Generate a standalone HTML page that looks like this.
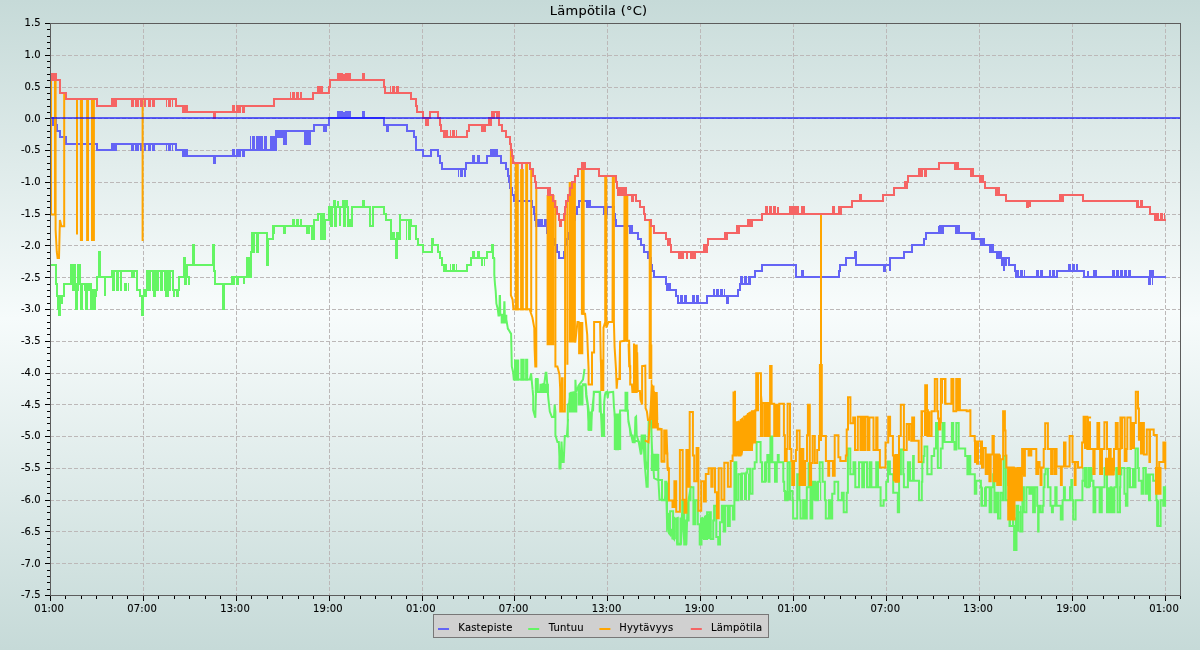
<!DOCTYPE html><html><head><meta charset="utf-8"><title>Lämpötila</title><style>html,body{margin:0;padding:0;width:1200px;height:650px;overflow:hidden;background:#c6dad8}svg{display:block}</style></head><body><svg width="1200" height="650" viewBox="0 0 1200 650">
<defs>
<linearGradient id="bg" x1="0" y1="0" x2="0" y2="1">
<stop offset="0" stop-color="#c6dad8"/><stop offset="0.49" stop-color="#f6fbfb"/><stop offset="1" stop-color="#c6dad8"/>
</linearGradient>
<linearGradient id="pbg" gradientUnits="userSpaceOnUse" x1="0" y1="23" x2="0" y2="596">
<stop offset="0" stop-color="#cddfdd"/><stop offset="0.5" stop-color="#f8fcfc"/><stop offset="1" stop-color="#cddfdd"/>
</linearGradient>
</defs>
<rect x="0" y="0" width="1200" height="650" fill="url(#bg)"/>
<rect x="50" y="23" width="1130" height="572" fill="url(#pbg)"/>
<path d="M143.5 23V595M236.5 23V595M329.5 23V595M422.5 23V595M514.5 23V595M607.5 23V595M700.5 23V595M793.5 23V595M886.5 23V595M979.5 23V595M1072.5 23V595M1165.5 23V595M50 55.5H1180M50 87.5H1180M50 118.5H1180M50 150.5H1180M50 182.5H1180M50 214.5H1180M50 245.5H1180M50 277.5H1180M50 309.5H1180M50 341.5H1180M50 373.5H1180M50 404.5H1180M50 436.5H1180M50 468.5H1180M50 500.5H1180M50 531.5H1180M50 563.5H1180" stroke="#bcb8b8" stroke-width="1" stroke-dasharray="4 2" fill="none"/>
<defs><clipPath id="pc"><rect x="51" y="24" width="1129" height="571"/></clipPath><pattern id="po" width="4" height="8" patternUnits="userSpaceOnUse"><rect width="3" height="8" fill="#ffa500"/></pattern><pattern id="pb" width="4" height="8" patternUnits="userSpaceOnUse"><rect width="3" height="8" fill="#6464f5"/></pattern><pattern id="pr" width="4" height="8" patternUnits="userSpaceOnUse"><rect width="3" height="8" fill="#f56464"/></pattern><pattern id="pg" width="4" height="8" patternUnits="userSpaceOnUse"><rect width="3" height="8" fill="#64f564"/></pattern></defs><g clip-path="url(#pc)" fill="none" stroke-width="2" stroke-linecap="square" stroke-linejoin="miter"><path d="M50 118H56V125H57V131H60V137H66V144H97V150H112V144H132V150H133V144H136V150H138V144H176V150H183V156H214V163H215V156H240V150H243V156H244V150H257V137H259V150H276V137H276V131H278V137H280V131H284V144H286V131H305V144H310V131H314V125H329V118H338V112H340V118H341V112H342V118H344V112H344V118H346V112H347V118H349V112H350V118H363V112H364V118H384V125H407V131H414V137H416V144H416V150H423V156H431V150H438V156H440V163H442V169H466V163H473V156H474V163H487V156H498H501V163H506V169H508V176H509V182H510V188H512V195H514V201H532V207H534V214H535V220H536V226H538V220H539V226H541V220H542V226H545V220H546V226H547V233H553V239H555V245H557V252H559V258H564V252H565V245H566V239H568V233H570V226H572V220H575V214H577V207H579V201H590V207H614V214H615V220H616V226H632V233H638V239H641V245H644V252H648V258H651V265H652V271H654V277H666V284H670V290H676V296H678V303H707V296H727V303H728V296H738V290H740V284H750V277H755V271H762V265H796V277H802V271H803V277H839V271H840V265H846V258H855V252H856V265H884V271H885V265H890V271H890V258H904V252H912V245H924V239H926V233H939V226H939V233H940V226H942V233H943V226H959V233H974V239H984V245H993V252H1001V258H1004V271H1004V258H1009V265H1015V271H1016V277H1057V271H1084V277H1088V271H1088V277H1094V271H1096V277H1150V271H1151V277H1152V271H1153V277H1165" stroke="#6464f5"/><path d="M52 117H54V126H52ZM112 143H117V151H112ZM183 149H188V157H183ZM270 136H276V151H270ZM305 130H310V145H305ZM323 124H327V132H323ZM337 111H340V119H337ZM386 124H389V132H386ZM477 155H480V164H477ZM493 149H498V157H493ZM490 149H493V157H490ZM586 200H590V208H586ZM603 206H608V215H603ZM629 225H632V234H629ZM666 283H670V291H666ZM955 225H959V234H955ZM971 232H974V240H971ZM980 238H984V246H980ZM989 244H993V253H989ZM996 251H1001V259H996Z" fill="#6464f5"/><path d="M139 143H146V151H139ZM148 143H156V151H148ZM166 143H173V151H166ZM232 149H240V157H232ZM250 136H257V151H250ZM259 136H268V151H259ZM280 130H288V138H280ZM458 168H466V177H458ZM678 295H688V304H678ZM691 295H700V304H691ZM713 289H725V297H713ZM740 276H750V285H740ZM1001 257H1009V266H1001ZM1017 270H1025V278H1017ZM1035 270H1043V278H1035ZM1049 270H1057V278H1049ZM1068 264H1078V272H1068ZM1112 270H1131V278H1112ZM1147 276H1153V285H1147Z" fill="url(#pb)"/><path d="M50 265H56V284H57V296H58V309H59V315H60V296H64V284H71V265H75V290H76V309H77V284H78V265H80V284H81V309H82V284H86V309H87V284H91V309H95V290H97V277H99V252H100V277H105V296H105V277H112V271H122H129H132V277H134V271H137V290H140V296H142V315H143V296H144V290H147V271H154V296H155V271H166V296H168V271H173V290H179V277H184V258H185V277H187V265H193V245H194V265H213V245H214V265H214V271H215V284H223V309H224V284H232V277H244V284H244V277H247V258H250V277H251V252H252V233H260H267V265H268V239H273V226H284V233H285V226H307V233H309V226H312V239H314V220H318V214H324V239H325V220H329V207H331V226H332V207H334V201H335V226H336V207H338V201H338V207H340V226H340V207H343V201H344V207H344V226H345V207H346V201H347V207H348V226H352V207H363V201H364V207H370V226H373V207H384V214H386V220H391V239H396V258H397V239H400V214H400V220H406H411V226H416V239H418V245H423V252H432V239H433V245H438V252H440V258H442V265H444V271H467V265H471V258H473V252H474V258H478V252H479V258H487V252H492V245H493V258H494" stroke="#64f564"/><path d="M59 295H64V304H59ZM71 264H75V291H71ZM75 283H78V291H75ZM78 264H80V291H78ZM80 283H86V291H80ZM88 283H91V291H88ZM91 289H95V310H91ZM95 289H97V297H95ZM112 270H122V291H112ZM123 283H129V291H123ZM144 289H148V297H144ZM147 270H173V291H147ZM173 289H179V297H173ZM183 276H190V285H183ZM232 276H239V285H232ZM247 257H250V278H247ZM252 232H260V253H252ZM273 225H275V234H273ZM291 219H302V227H291ZM317 213H324V221H317ZM320 219H324V240H320ZM348 219H352V227H348ZM370 206H373V227H370ZM390 232H400V240H390ZM406 219H411V240H406ZM444 264H448V272H444ZM450 264H457V272H450ZM481 257H485V266H481Z" fill="url(#pg)"/><path d="M494.3 258.7 494.3 258.7M494.3 259.2 494.3 274.6 495 284.3 495.7 291.2 496.4 303.7 497.8 309.2 498.5 315.4 499.4 315.4 499.7 296.1 500 296.1 500.3 314.7 504 314.7 504.3 302.3 504.5 302.3 504.8 314.7 506.8 322.4 507.9 328.6M507.9 328.5 511.1 333.9 511.8 366.4 513.1 372 513.8 379.6 529.8 379.6 531.1 373.4 532.5 388.6M532.5 388.5 533.2 396.3 533.2 410.1 535.3 417.8 536 392.1 536 379 537.6 379 537.6 392.1 540.1 392.1 540.8 385.2 544.3 383.8 545.7 372.8 546.4 372.8 547.8 392.1 548.4 399.1 549.8 411.5 551.9 417.1 554 417.1 554.7 404.6 555.4 411.5 555.4 435.1 557.4 442 558.8 442 559.5 458.6M559.4 458.5 559.4 468.4 560.5 468.4 561.5 441.5 562.6 462 563.7 462 564.8 436.1 566.9 436.1 568 420M567.8 436.4 567.8 404.6 569.2 403.2 570.6 392.8 575.4 392.1 575.4 379.7 576.1 392.1 578.9 385.2 583 379.7 584.4 370M583 385.2 585.8 385.2 586.5 394.9 588.6 410.1 589.3 422.6 590 429.5 591.3 422.6 592 411.5 594.1 392.1 599.7 392.1 599.7 411.5M582.8 384.2 585.5 384.2 586.2 396.6 587.6 404.9 588.3 416 589 421.5 589 429.8 591.1 429.8 591.8 411.8 593.1 410.4 593.8 391.8 600.1 391.8 600.8 410.4 601.5 422.9 602.1 436.1 603.5 436.1 604.2 402.1 604.9 395.2 605.6 392.5 607 391.8 607.7 398 608.4 392.5 613.2 391.8 613.9 406.3 615.3 421.5 616 449.2 618.1 449.2 618.8 429.8 620.1 410.4 627.8 410.4 628.4 421.5 629.8 428.4 630.5 435.4 632.6 435.4 633.3 442.3 634.7 442.3 635.4 417.4 636.1 416.7 636.7 435.4 638.8 442.3 640.9 454.7 641.6 435.4 645.1 435.4 645.7 460.3 647.1 468.6M649.2 422.9 651.3 422.9 652 454.7 657.5 454.7 657.5 470M628.3 420 632.6 441.5 634.7 440.5 639.1 441.5 641.2 454.5 643.4 436.1 644.4 459.8 646.6 486.8 647.7 486.8 648.7 420 650.9 420 652 448 654.1 478.1 658.4 480.3 659.5 499.7 664.9 499.7 666 481.4 667 521.2 668.1 529.8 671.4 529.8 672.4 538.4 674.6 538.4 674.6 519.1 677.8 518 677.8 543.8 681 543.8 682.1 512.6 683.2 523.4 684.3 543.8 686.4 543.8 687.5 506.1 690.7 486.8M655 454.9H657.8V454.9H658.3V479.9H661.5V479.9H662V500.2H664.2V500.2H665.2V481.7H666.4V483.6H667V522.3H667.9V522.3H668.3V531.6H669.8V531.6H670.1V511.3H672.5V511.3H673.1V538H674.4V538H674.9V518.6H676.8V518.6H677.2V544.5H679.9V544.5H680.5V518.6H681.8V518.6H682.3V500.2H683.6V500.2H684.2V544.5H685.5V544.5H686V520.5H688.2V520.5H688.6V500.2H690.1V500.2H690.5V487.2H692.9V487.2H693.4V524.2H694.7V524.2H695.3V500.2H697.5V500.2H697.8V524.2H699.3V524.2H699.7V544.5H701.2V544.5H701.5V518.6H703.4V518.6H703.9V539H706.7V539H707.1V512.2H710.4V512.2H710.8V539H712.2V539H713.2V520.5H714.1V505.7H715.9V505.7H716.3V537.1H717.8V537.1H718.2V544.5H719.6V544.5H720V522.3H721.5V522.3H721.9V505.7H723.3V505.7H723.7V531.6H725.2V505.7H727.4V505.7H727.9V526H729.2V526H729.8V505.7H732.6V505.7H732.9V519.6H734V519.6H734.4V462.3H735.9V462.3H736.3V500.2H738.1V500.2H738.5V474.3H741.8V473.4H745.5V473.4H746.4V472.5H747.3V468.8H749.6V468.8H750.1V493.7H752V493.7H752.5V468.8H754.4V468.8H754.7V462.3H756.2V462.3H756.6V442H760.3V442H760.6V462.3H761.7V462.3H762.1V481.7H764.9V481.7H765.4V462.3H766.7V462.3H767.3V454.9H768V454.9H768.6V481.7H769.5V462.3H770.4V436.5H771.7V436.5H772.3V462.3H774.1V462.3H775V481.7H775M775 462.3H775.9V481.7H776.8V462.3H777.8V454.9H778.7V462.3H782.4V462.3H783.3V481.7H784.2V490.9H785.2V500.2H787V500.2H787.6V462.3H789.4V462.3H789.8V490.9H791.6V490.9H792.5V500.2H793.1V518.6H796.8V518.6H797.2V474.3H799V474.3H799.4V500.2H800.5V518.6H802.7V518.6H803.1V500.2H804.5V500.2H804.9V518.6H806.4V518.6H806.8V487.2H808.2V487.2H808.6V463.2H810.1V463.2H810.5V518.6H811.9V518.6H812.3V481.7H814.7V481.7H815.3V500.2H817.5V500.2H817.8V481.7H819.3V481.7H819.7V462.3H822.1V462.3H822.6V481.7H823.9V481.7H824.9V500.2H825.8V518.6H828.6V518.6H828.9V500.2H830.4V500.2H830.8V518.6H831.9V518.6H832.2V493.7H833.7V493.7H834.5V481.7H837.8V481.7H838.2V500.2H841.5V500.2H841.9V492.8H843.3V492.8H843.7V512.2H846.1V512.2H846.7V492.8H847.9V448.5H849.8V448.5H850.3V474.3H852.6V474.3H853.5V462.3H854.8V462.3H855.3V487.2H858.1V487.2H859V462.3H861.8V462.3H862.2V487.2H863.6V487.2H864V462.3H866.4V462.3H867V487.2H869.2V487.2H869.6V462.3H871V462.3H871.4V487.2H875.6V487.2H876.2V462.3H877.5V462.3H878V487.2H880.3V487.2H880.6V505.7H883V505.7H883.6V500.2H885.8V500.2H886.2V481.7H887.7V481.7H888V461.4H889.5V461.4H889.9V474.3H892.3V474.3H893.2V492.8H895M895 492.8H896.8V492.8H897.8V512.2H898.7V512.2H899.1V474.3H900.5V474.3H900.9V449.4H902.8V449.4H903.3V474.3H903.9V487.2H907.6V487.2H907.9V462.3H909.8V462.3H910.1V480.8H912.5V480.8H913.1V455.9H913.5V455.9H913.8V480.8H918.6V480.8H919V500.2H920.9V500.2H921.8V481.7H922.3V462.3H923.6V455.9H924.5V446.6H926.4V446.6H927.3V474.3H931V474.3H931.6V455.9H933.8V455.9H934.2V448.5H935.6V448.5H936V423H937.5V423H937.8V467.9H940.2V467.9H940.8V448.5H942.1V448.5H942.6V423H943.9V423H944.5V442H951.3V442H951.9V423H952.6V423H953.2V442H954.1V442H954.5V449.4H955.9V449.4H956.3V423H957.8V423H958.7V448.5H964.3V448.5H965.2V455.9H967V455.9H967.4V474.3H968.9V474.3H969.2V455.9H969.8V455.9H970.3V474.3H974.4V474.3H974.8V493.7H975.9V493.7H976.3V480.8H979.9V480.8H980.9V487.2H981.4V505.7H985.5V505.7H985.9V487.2H989.2V487.2H989.6V512.2H991V512.2H991.4V487.2H992.9V487.2H993.2V474.3H993.8V474.3H994.4V512.2H995.6V512.2H996.2V492.8H997.5V492.8H998V518.6H999.9V518.6H1000.3V492.8H1002.1V492.8H1002.5V500.2H1003V500.2H1003.6V455.9H1004.9V455.9H1005.8V500.2H1007.7V500.2H1008.6V505.7H1009.5V526H1013.2V526H1014.1V550H1015M1015 518.6H1015.9V550H1016.5V505.7H1017.8V505.7H1018.3V512.2H1019.6V512.2H1020.2V531.6H1022V531.6H1022.4V487.2H1023.3V487.2H1023.9V512.2H1026.1V512.2H1026.4V487.2H1028.9V487.2H1029.4V493.7H1030.7V493.7H1031.3V487.2H1032.5V487.2H1033.1V512.2H1034.4V512.2H1034.9V487.2H1036.8V487.2H1037.2V505.7H1038.1V531.6H1038.6V505.7H1039.9V505.7H1040.5V512.2H1042.3V512.2H1042.7V505.7H1043.6V487.2H1044.5V474.3H1045.5V468.8H1047.3V468.8H1047.9V487.2H1050.1V487.2H1050.5V505.7H1051.9V512.2H1052.9V505.7H1054.7V505.7H1055.3V487.2H1056V487.2H1056.6V505.7H1060.2V505.7H1060.8V519.6H1062.1V519.6H1062.6V500.2H1063.4V500.2H1063.9V487.2H1064.9V500.2H1069.5V500.2H1070V487.2H1071.3V479.9H1072.2V500.2H1073.2V519.6H1075V519.6H1075.6V500.2H1081.5V500.2H1082.4V480.8H1084.3V467.9H1086.1V467.9H1086.7V487.2H1088.5V487.2H1088.9V467.9H1090.7V467.9H1091.1V480.8H1092.6V480.8H1093.5V512.2H1094.8V512.2H1095.3V487.2H1099V487.2H1099.6V512.2H1099.9M1100 487.3H1101.5V512.3H1101.8V487.3H1104.1V487.3H1104.6V467.9H1106.5V467.9H1107V512.3H1110.2V512.3H1110.7V487.3H1111.5V512.3H1113.9V512.3H1114.4V487.3H1115.7V487.3H1116.3V467.9H1117V467.9H1117.6V512.3H1119.4V512.3H1120V487.3H1120.3V474.4H1121.3V467.9H1124V467.9H1124.4V493.8H1125.5V493.8H1125.9V505.8H1126.8V505.8H1127.4V467.9H1128.7V467.9H1129.6V487.3H1135.1V487.3H1135.5V448.5H1137.3V448.5H1137.9V467.9H1138.8V480.8H1141V480.8H1141.6V493.8H1142.9V493.8H1143.4V467.9H1145.3V467.9H1145.8V493.8H1147.1V493.8H1147.7V474.4H1148.4V474.4H1149V500.2H1149.9V474.4H1152.7V474.4H1153.2V480.8H1155.5V480.8H1156.4V500.2H1157.3V526.1H1160.1V526.1H1160.6V500.2H1162.8V500.2H1163.2V505.8H1163.8V487.3H1165.1V487.3H1165.1V505.8" stroke="#64f564"/><path d="M500.7 314.7H507.3V323.4H500.7ZM514 359.5H519.2V380.6H514ZM520.3 358.8H524.7V380.6H520.3ZM525.1 358.8H528.2V380.6H525.1ZM539.6 383.8H548.9V393.1H539.6ZM534.8 379H538.6V393.1H534.8ZM568.7 392.8H577.3V412.5H568.7ZM577.7 385.2H583.5V405.6H577.7ZM587.4 411.5H591.8V430.5H587.4ZM624.5 391.8H628.3V411.4H624.5ZM650.8 454.7H658V471H650.8ZM587.9 413.5H592.2V430.7H587.9ZM600.9 413.5H605.1V437.1H600.9ZM613.8 413.5H621.2V450.1H613.8Z" fill="#64f564"/><path d="M738.1 473.4 750.1 473.4 750.1 500.2 738.1 500.2ZM761.2 462.3 768.6 462.3 768.6 481.7 761.2 481.7ZM699.7 518.6 710.4 512.2 710.4 539 699.7 539ZM666.1 511.3 677.2 518.6 677.2 544.5 666.1 531.6ZM811.9 481.7 821.2 481.7 821.2 500.2 811.9 500.2ZM784.2 490.9 792.5 490.9 792.5 500.2 784.2 500.2ZM907 462.3 913.5 462.3 913.5 480.8 907 480.8ZM980.9 487.2 986.4 487.2 986.4 505.7 980.9 505.7ZM1009.5 513.1 1014.1 513.1 1014.1 526 1009.5 526ZM1016 518.6 1021.5 518.6 1021.5 531.6 1016 531.6ZM1015 505.7 1021.5 505.7 1021.5 531.6 1015 531.6ZM1082.4 467.9 1092.6 467.9 1092.6 487.2 1082.4 487.2ZM1106.4 487.2 1114.7 487.2 1114.7 512.2 1106.4 512.2ZM1129.5 467.9 1135 467.9 1135 487.2 1129.5 487.2ZM1106.5 487.3 1113.9 487.3 1113.9 512.3 1106.5 512.3ZM1129.6 467.9 1135.1 467.9 1135.1 487.3 1129.6 487.3ZM1156.4 500.2 1160.1 500.2 1160.1 526.1 1156.4 526.1Z" fill="url(#pg)" stroke="none"/><path d="M51 74 51 214.5 55 214.5 55 74M55.6 74 55.6 229.6 56.8 252 57.6 258 59 258 59.9 220 61.4 226.3 64.2 226.3 64.2 93M77 99 77 233.4M142.6 99 142.6 240M821 214 821 440M510.9 144 510.9 295.4 512.6 299.5 513.4 309.2 529.6 309.2 532.4 317.5 534.4 328.6M531.2 169 531.2 311M534.3 328.7 534.6 348.4 535.3 366.4 536.3 366.4 536.3 188M555.4 201 555.4 366.4 557.4 366.4 559.5 374.7 560.2 388.6M560.2 388.5 560.2 411.5 561.9 411.5 562 378.3 562.6 378.3 562.6 411.5 564.8 411.5 565.1 370M565.1 370 565.1 207M567.4 201 567.4 363.7M575.4 341.5 576.1 334.6 577.5 322.1 578.6 322.1M583 313.8 585.1 313.8 587.2 334.6 587.9 352.6 588.6 369.2 588.6 384.4 592 384.4 592 352.6 594.1 352.6 594.1 322.1 599.7 322.1M599.7 322.1 600.1 322.1 600.8 359.5 601.5 374.7 601.9 390 603.3 390 603.5 327.7 605.2 322.1 605.2 176M606.3 176 606.3 327.7 608.4 322.1 612.5 322.1 612.8 176M613.9 176 613.9 322.1 614.6 347.1 616 369.2 616.7 388.6 617.4 378.9 619.4 378.9 620.1 341.5 624.3 340.8 624.6 195M627.8 340.8 629.1 340.8 629.8 365.1 630.5 377.5M620 348.9 620 379.1M628.6 344.6 629.2 366.2 630.2 366.2 630.2 384.5 631.9 384.5 632.4 392 634 392 634 344.6M637.2 353.2 637.8 390.9 639.9 390.9 640.5 399.6 642.1 404.4 642.1 366.2 645.3 365.6 645.6 408.2 646.9 411.4 648 420M645.7 440.9 648.5 442.3 652 385.5M658.2 428.4 661.7 429.1 661.7 461.7 664.4 461.7 664.4 430.5 666.5 430.5 667.2 452 667.9 470M655 400 655 424M655 400V424H657.8V429.5H661.5V460.9H664.2V430.5H666.1V453.6H667.4V468.3H668.9V500.6H672.5V507.1H674.4V481.3H676.2V511.7H679.9V449.9H682.7V499.7H684.5V512.7H686.4V449.9H688.2V486.8H689.7V412H692.9V455.4H694.2V481.3H696.6V448H698.4V510.8H701.2V481.3H703.9V501.6H705.8V473.9H708.6V468.3H711.3V486.8H712.6V468.3H715V492.3H716.9V518.2H718.7V468.3H721.5V499.7H724.3V462.8H727.9V486.8H730.7V460.9H732.6V455.4H733.5V392.6M735 391.8V455.5H736.5V422.2H738.7V455.5H740.5V420.4H742.4V449.9H744.2V416.7H746.1V449.9H747.9V413.9H749.8V449.9H752V411.2H753.5V442.6H755.3V410.2H756.2V373.3H760.9V373.3H760.9V436.1H762.3V402.9H764.5V436.1H766.4V402.9H768.2V436.1H769.7V402.9H770.1V365.9H771.2V365.9H771.6V403.8H774.2V436.1H774.7V404.7H776V436.1H777.8V404.7H778.4V436.1H779.3V403.8H783.4V403.8H783.9V435.2H784.9V461H786.7V449H787.6V403.8H789.5V403.8H790V449H791.3V461H792.2V485H794.1V461H795.9V449.9H796.9V430.6H798.7V430.6H799.6V485H801.5V449H803.3V485H805.2V461H807V435.2H807.9V404.7H809.8V404.7H809.8V485H811.1V462.9H812.6V436.1H814.4V436.1H814.8V462.9H817.2V449.9H819V436.1H819.9V365H821.8V436.1H825.5V436.1H825.9V461H827.3V461H828.3V475.8H829.2V461H832V461H832.9V475.8H834.7V435.2H837.5V435.2H838.4V457.3H840.3V461H844V461H845.8V455.5H846.7V429.6H848V397.3H849.5V397.3H850.4V423.2H852.3V423.2H853.2V417.6H854.7V417.6H855V433.3H855M855 433.3V449.9H856.8V449.9H857.8V416.7H860.5V449.9H861.5V416.7H863.3V449.9H865.2V416.7H867.6V449.9H869.4V417.6H873.5V449.9H876.2V417.6H877.5V449.9H879V449.9H879.9V467.5H884.5V467.5H885.5V442.6H887.3V442.6H888.2V416.7H889.2V416.7H890.1V436.1H891.9V436.1H892.9V455.5H894.7V455.5H895.6V481.3H898.4V481.3H899V436.1H900.2V436.1H900.8V404.7H903.4V404.7H903.9V449.9H905.8V449.9H906.7V424.1H910.4V424.1H911.3V440.7H912.2V417.6H913.7V417.6H914.1V440.7H917.8V440.7H918.7V462H920.6V462H921.5V411.2H924.3V411.2H925.2V385.3H926.7V385.3H927V410.2H927.9V436.1H930.7V436.1H931.6V411.2H934.4V411.2H934.8V378.9H936.6V378.9H937.2V411.2H938.1V418.6H939V429.6H940.3V422.2H940.9V378.9H945.1V378.9H945.5V403.8H951V403.8H951.4V378.9H952.9V378.9H953.4V411.2H955.6V411.2H956.2V378.9H959.3V378.9H959.9V410.2H965.8V410.2H966.7V411.2H968.6V411.2H969.5V410.2H970.4V436.1H974.1V436.1H974.7V440.7H975V462H975M975 441.6H981.5V441.6H982V467.5H983.3V448.1H985.2V448.1H985.7V474H987V474H987.6V454.6H988.9V454.6H989.4V481.3H990.7V454.6H992V454.6H992.5V436.1H993.5V436.1H993.8V481.3H995.3V454.6H996.8V454.6H997.2V485H998.1V454.6H999V455.5H999.9V485H1000.9V459.2H1002.7V459.2H1003.1V411.2H1004.5V411.2H1004.9V430.6H1005.5V455.5H1006.4V467.5H1007.9V467.5H1008.2V485H1009.2V467.5H1012.9V467.5H1013.8V485H1014.7V468.4H1016.6V468.4H1017.5V485H1019.3V474H1021.2V474H1022.1V449H1023.4V449H1023.9V475.8H1024.9V449H1027.6V449H1028.6V455.5H1029.5V449H1030.4V455.5H1031.3V449H1035.9V449H1036.3V474H1037.8V474H1038.2V462H1039.6V467.5H1040.6V485H1041.5V467.5H1043.3V467.5H1043.7V449H1044.8V449H1045.2V423.2H1047.4V423.2H1047.9V449H1050.7V449H1051.1V474H1052.6V449H1054.4V449H1054.8V474H1056.3V449H1056.6V466.6H1059.9V466.6H1060.9V485H1061.8V466.6H1063.6V466.6H1064V442.6H1065.1V442.6H1065.5V466.6H1069.2V466.6H1069.6V436.1H1072V436.1H1072.5V462H1074.7V485H1075.6V462H1077.5V462H1078V467.5H1081.7V467.5H1082.1V442.6H1083V442.6H1083.6V416.7H1086.7V416.7H1087.3V449H1088V417.6H1089.5V417.6H1090.1M1090 422.2V448.9H1092.8V448.9H1093.3V473.9H1094.6V448.9H1097V448.9H1097.4V423.1H1098.9V423.1H1099.2V448.9H1100.1V473.9H1101.4V473.9H1102V448.9H1103.8V448.9H1104.4V422.2H1106.6V422.2H1107V448.9H1110.3V448.9H1110.7V473.9H1113.1V473.9H1113.6V470.2H1114V448.9H1115.5V448.9H1115.8V423.1H1117.3V423.1H1117.7V448.9H1118.6V473.9H1119.5V473.9H1119.9V448.9H1120.4V417.6H1124.1V417.6H1124.7V460.9H1126V460.9H1126.5V448.9H1127.3V417.6H1130.2V417.6H1130.6V448.9H1131V423.1H1135.2V423.1H1135.8V391.8H1137.6V391.8H1138V408.4H1138.9V439.7H1139.8V423.1H1143.5V423.1H1143.9V454.5H1146.3V454.5H1146.8V429.6H1149V429.6H1149.4V461.9H1150V429.6H1152.7V429.6H1153.7V435.1H1156.4V435.1H1156.8V477.5H1158.3V484.9H1159.2V461.9H1162.9V461.9H1163.4V442.5H1165.3V442.5H1165.3V468.3" stroke="#ffa500"/><path d="M79.9 99H83V241H79.9ZM86.1 99H89V241H86.1ZM91 99H94.9V241H91ZM514.8 163H518.8V310.2H514.8ZM520.1 169H523.8V310.2H520.1ZM525.2 163H528.1V310.2H525.2ZM546.6 195H554.5V345.3H546.6ZM568.7 182H575.9V342.5H568.7ZM578.1 322.1H583.3V354.3H578.1ZM580.9 169H584.7V314.8H580.9ZM600.3 359.5H604V391H600.3ZM623.8 195H628.3V341.8H623.8ZM633.5 344.6H637.7V393H633.5ZM648.6 344.6H652.3V379H648.6ZM650.7 380.2 652.3 379.1 652.3 385.6 654.5 385.6 654.5 392 657.7 392 658.3 420 650.7 420ZM648.7 220H651.8V378.5H648.7ZM652 385.5 655.4 392.5 657.5 411.8 658.2 422.9 658.2 428.4 652 428.4ZM894.5 454H899.2V482.7H894.5ZM1007.2 466.9H1015.5V520.6H1007.2ZM1016.4 466.9H1022.9V501.2H1016.4ZM994.2 457.7H998.9V481.8H994.2ZM1014.5 467.9H1022V501.2H1014.5ZM1105.9 457.7H1113.4V475.3H1105.9ZM1105 457.7H1114.4V475.4H1105ZM1155 467H1161.5V494.8H1155Z" fill="#ffa500"/><path d="M736.5 422.2 742.4 417.6 746.1 414.9 748.9 412.1 752.5 410.8 755.3 410.2 755.3 442.6 753.5 442.6 752.5 449.9 743.3 449.9 742.4 455.5 736.5 455.5ZM756.2 373.3 760.9 373.3 761.8 392.7 762.7 402.9 769.2 402.9 769.2 436.1 761.8 436.1 760.9 411.2 756.2 411.2ZM921.5 411.2 930.7 411.2 930.7 436.1 921.5 436.1ZM941.8 378.9 945.5 378.9 945.5 403.8 941.8 403.8ZM956.2 378.9 959.9 378.9 959.9 411.2 956.2 411.2ZM906.7 424.1 910.4 424.1 910.4 440.7 906.7 440.7ZM892.9 455.5 898.4 455.5 898.4 481.3 892.9 481.3ZM975 441.6 981.5 441.6 981.5 464.7 975 464.7ZM1083 442.6 1083.6 416.7 1086.7 416.7 1087.3 449 1083 449ZM1120.4 417.6 1124.1 417.6 1124.1 448.9 1120.4 448.9ZM1130.2 423.1 1135.2 423.1 1135.2 448.9 1130.2 448.9ZM1139.8 423.1 1143.5 423.1 1143.5 454.5 1139.8 454.5ZM1106.6 448.9 1110.3 448.9 1110.3 473.9 1106.6 473.9Z" fill="url(#po)" stroke="none"/><path d="M50 74H56V80H60V87H60V93H66V99H97V106H112V99H132V106H133V99H136V106H138V99H176V106H183V112H214V118H215V112H240V106H243V112H244V106H274V99H313V93H329V87H330V80H338V74H340V80H341V74H342V80H344V74H344V80H346V74H347V80H349V74H350V80H363V74H364V80H384V87H385V93H411V99H416V106H417V112H423V118H430V112H438V118H440V125H441V131H444V137H467V131H469V125H489V118H490V125H491V118H492V112H499V125H502V131H506V137H510V144H511V150H512V156H513V163H522V169H522V163H530V169H533V176H535V182H536V188H548V195H553V201H555V207H557V214H559V220H560V226H561V220H564V214H565V207H566V201H568V195H570V188H572V182H575V176H578V169H599V176H616V182H617V188H618V195H622V188H623V195H627H632V201H633V195H636V201H640V207H644V214H645V220H651V226H654V233H666V239H669V245H671V252H704V245H708V239H725V233H728H737V226H740H748V220H753H762V214H766V207H767V214H770V207H771V214H774V207H775V214H778V207H778V214H790V207H792V214H833V207H834V214H841V207H852V201H860V195H861V201H883V195H894V188H905V182H908V176H919V169H939V163H955V169H971V176H980V182H985V188H996V195H1000H1006V201H1027V207H1028V201H1030V207H1030V201H1060V195H1083V201H1137V207H1143H1150V214H1155V220H1165" stroke="#f56464"/><path d="M51 73H56V81H51ZM112 98H117V107H112ZM183 105H188V113H183ZM317 86H323V94H317ZM337 73H340V81H337ZM425 117H429V126H425ZM444 130H448V138H444ZM481 124H486V132H481ZM548 187H551V196H548ZM581 162H586V170H581ZM618 187H622V196H618ZM623 187H627V196H623ZM667 238H671V246H667ZM678 251H684V259H678ZM686 251H688V259H686ZM690 251H696V259H690ZM704 244H708V253H704ZM725 232H728V240H725ZM737 225H740V234H737ZM748 219H753V227H748ZM793 206H799V215H793ZM801 206H805V215H801ZM838 206H841V215H838ZM905 181H908V189H905ZM939 162H940V170H939ZM955 162H959V170H955ZM971 168H974V177H971ZM980 175H984V183H980ZM996 187H1000V196H996ZM1060 194H1064V202H1060Z" fill="#f56464"/><path d="M139 98H146V107H139ZM148 98H156V107H148ZM166 98H173V107H166ZM232 105H240V113H232ZM290 92H302V100H290ZM390 86H400V94H390ZM450 130H457V138H450ZM492 111H498V119H492ZM919 168H928V177H919ZM1137 200H1143V208H1137ZM1155 213H1165V221H1155Z" fill="url(#pr)"/></g>
<path d="M51 118H1180" stroke="#0000ff" stroke-opacity="0.6" stroke-width="2" fill="none"/>
<rect x="50.5" y="23.5" width="1130" height="572" fill="none" stroke="#5c5c5c" stroke-width="1"/>
<path d="M45 23.5H50M47 29.5H50M47 36.5H50M47 42.5H50M47 48.5H50M45 55.5H50M47 61.5H50M47 67.5H50M47 74.5H50M47 80.5H50M45 87.5H50M47 93.5H50M47 99.5H50M47 106.5H50M47 112.5H50M45 118.5H50M47 125.5H50M47 131.5H50M47 137.5H50M47 144.5H50M45 150.5H50M47 156.5H50M47 163.5H50M47 169.5H50M47 176.5H50M45 182.5H50M47 188.5H50M47 195.5H50M47 201.5H50M47 207.5H50M45 214.5H50M47 220.5H50M47 226.5H50M47 233.5H50M47 239.5H50M45 245.5H50M47 252.5H50M47 258.5H50M47 265.5H50M47 271.5H50M45 277.5H50M47 284.5H50M47 290.5H50M47 296.5H50M47 303.5H50M45 309.5H50M47 315.5H50M47 322.5H50M47 328.5H50M47 334.5H50M45 341.5H50M47 347.5H50M47 353.5H50M47 360.5H50M47 366.5H50M45 373.5H50M47 379.5H50M47 385.5H50M47 392.5H50M47 398.5H50M45 404.5H50M47 411.5H50M47 417.5H50M47 423.5H50M47 430.5H50M45 436.5H50M47 442.5H50M47 449.5H50M47 455.5H50M47 462.5H50M45 468.5H50M47 474.5H50M47 481.5H50M47 487.5H50M47 493.5H50M45 500.5H50M47 506.5H50M47 512.5H50M47 519.5H50M47 525.5H50M45 531.5H50M47 538.5H50M47 544.5H50M47 551.5H50M47 557.5H50M45 563.5H50M47 570.5H50M47 576.5H50M47 582.5H50M47 589.5H50M45 595.5H50M50.5 596V601M65.5 596V599M81.5 596V599M96.5 596V599M112.5 596V599M127.5 596V599M143.5 596V601M158.5 596V599M174.5 596V599M189.5 596V599M205.5 596V599M220.5 596V599M236.5 596V601M251.5 596V599M267.5 596V599M282.5 596V599M298.5 596V599M313.5 596V599M329.5 596V601M344.5 596V599M360.5 596V599M375.5 596V599M391.5 596V599M406.5 596V599M422.5 596V601M437.5 596V599M453.5 596V599M468.5 596V599M483.5 596V599M499.5 596V599M514.5 596V601M530.5 596V599M545.5 596V599M561.5 596V599M576.5 596V599M592.5 596V599M607.5 596V601M623.5 596V599M638.5 596V599M654.5 596V599M669.5 596V599M685.5 596V599M700.5 596V601M716.5 596V599M731.5 596V599M747.5 596V599M762.5 596V599M778.5 596V599M793.5 596V601M809.5 596V599M824.5 596V599M840.5 596V599M855.5 596V599M871.5 596V599M886.5 596V601M902.5 596V599M917.5 596V599M933.5 596V599M948.5 596V599M963.5 596V599M979.5 596V601M994.5 596V599M1010.5 596V599M1025.5 596V599M1041.5 596V599M1056.5 596V599M1072.5 596V601M1087.5 596V599M1103.5 596V599M1118.5 596V599M1134.5 596V599M1149.5 596V599M1165.5 596V601M1180.5 596V599" stroke="#000" stroke-width="1" fill="none"/>
<g font-family="DejaVu Sans, sans-serif" font-size="10" fill="#000" stroke="#000" stroke-width="0.1"><text x="40.5" y="26.3" text-anchor="end">1.5</text><text x="40.5" y="58.08" text-anchor="end">1.0</text><text x="40.5" y="89.86" text-anchor="end">0.5</text><text x="40.5" y="121.63" text-anchor="end">0.0</text><text x="40.5" y="153.41" text-anchor="end">-0.5</text><text x="40.5" y="185.19" text-anchor="end">-1.0</text><text x="40.5" y="216.97" text-anchor="end">-1.5</text><text x="40.5" y="248.74" text-anchor="end">-2.0</text><text x="40.5" y="280.52" text-anchor="end">-2.5</text><text x="40.5" y="312.3" text-anchor="end">-3.0</text><text x="40.5" y="344.08" text-anchor="end">-3.5</text><text x="40.5" y="375.86" text-anchor="end">-4.0</text><text x="40.5" y="407.63" text-anchor="end">-4.5</text><text x="40.5" y="439.41" text-anchor="end">-5.0</text><text x="40.5" y="471.19" text-anchor="end">-5.5</text><text x="40.5" y="502.97" text-anchor="end">-6.0</text><text x="40.5" y="534.74" text-anchor="end">-6.5</text><text x="40.5" y="566.52" text-anchor="end">-7.0</text><text x="40.5" y="598.3" text-anchor="end">-7.5</text><text x="49.25" y="611.5" text-anchor="middle" letter-spacing="0.2">01:00</text><text x="142.15" y="611.5" text-anchor="middle" letter-spacing="0.2">07:00</text><text x="235.05" y="611.5" text-anchor="middle" letter-spacing="0.2">13:00</text><text x="327.95" y="611.5" text-anchor="middle" letter-spacing="0.2">19:00</text><text x="420.85" y="611.5" text-anchor="middle" letter-spacing="0.2">01:00</text><text x="513.75" y="611.5" text-anchor="middle" letter-spacing="0.2">07:00</text><text x="606.65" y="611.5" text-anchor="middle" letter-spacing="0.2">13:00</text><text x="699.55" y="611.5" text-anchor="middle" letter-spacing="0.2">19:00</text><text x="792.45" y="611.5" text-anchor="middle" letter-spacing="0.2">01:00</text><text x="885.35" y="611.5" text-anchor="middle" letter-spacing="0.2">07:00</text><text x="978.25" y="611.5" text-anchor="middle" letter-spacing="0.2">13:00</text><text x="1071.15" y="611.5" text-anchor="middle" letter-spacing="0.2">19:00</text><text x="1164.05" y="611.5" text-anchor="middle" letter-spacing="0.2">01:00</text></g>
<text x="598.6" y="15" text-anchor="middle" letter-spacing="0.23" font-family="DejaVu Sans, sans-serif" font-size="13" fill="#000" stroke="#000" stroke-width="0.1">Lämpötila (°C)</text>
<rect x="433.5" y="614.5" width="335" height="23" fill="#d0d0d0" stroke="#777" stroke-width="1"/><path d="M438 629H449" stroke="#6464f5" stroke-width="2"/><text x="458.3" y="630.5" font-family="DejaVu Sans, sans-serif" font-size="10" letter-spacing="0.2" fill="#000" stroke="#000" stroke-width="0.1">Kastepiste</text><path d="M528.2 629H539.2" stroke="#64f564" stroke-width="2"/><text x="548.7" y="630.5" font-family="DejaVu Sans, sans-serif" font-size="10" letter-spacing="0.2" fill="#000" stroke="#000" stroke-width="0.1">Tuntuu</text><path d="M599.4 629H610.4" stroke="#ffa500" stroke-width="2"/><text x="619.2" y="630.5" font-family="DejaVu Sans, sans-serif" font-size="10" letter-spacing="0.2" fill="#000" stroke="#000" stroke-width="0.1">Hyytävyys</text><path d="M690.8 629H701.8" stroke="#f56464" stroke-width="2"/><text x="711" y="630.5" font-family="DejaVu Sans, sans-serif" font-size="10" letter-spacing="0.2" fill="#000" stroke="#000" stroke-width="0.1">Lämpötila</text>
</svg></body></html>
